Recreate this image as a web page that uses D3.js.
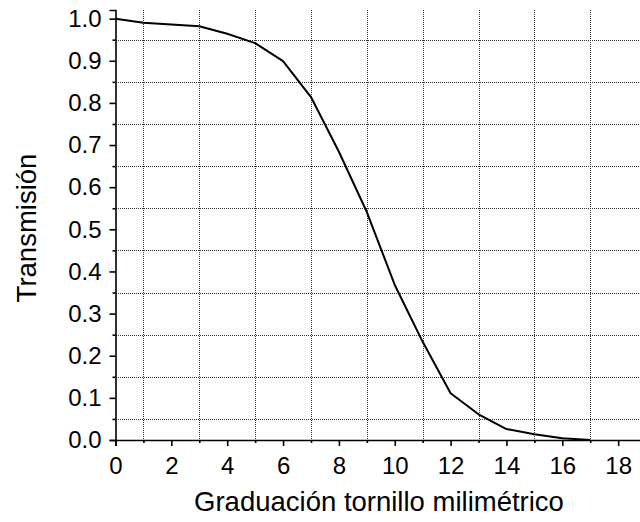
<!DOCTYPE html>
<html>
<head>
<meta charset="utf-8">
<script src="https://cdn.jsdelivr.net/npm/d3@7"></script>
<style>
  html, body { margin: 0; padding: 0; background: #fff; }
  svg { display: block; font-family: "Liberation Sans", Arial, sans-serif; }
</style>
</head>
<body>
<svg id="chart" width="640" height="522"></svg>
<script>
// Transmission curve vs. micrometer screw graduation
const graduacion = [0, 1, 3, 4, 5, 6, 7, 8, 9, 10, 11, 12, 13, 14, 15, 16, 17];
const transmision = [1.0, 0.99, 0.982, 0.964, 0.942, 0.899, 0.814, 0.684, 0.541, 0.368, 0.233, 0.111, 0.061, 0.026, 0.0135, 0.004, 0.0];

const xMajorTicks = [0, 2, 4, 6, 8, 10, 12, 14, 16, 18];
const xMinorTicks = [1, 3, 5, 7, 9, 11, 13, 15, 17];
const yMajorTicks = [0.0, 0.1, 0.2, 0.3, 0.4, 0.5, 0.6, 0.7, 0.8, 0.9, 1.0];
const yMinorTicks = [0.05, 0.15, 0.25, 0.35, 0.45, 0.55, 0.65, 0.75, 0.85, 0.95];

const xTitle = "Graduación tornillo milimétrico";
const yTitle = "Transmisión";

const svg = d3.select("#chart");
const plotLeft = 115.5, plotRight = 640.5, plotTop = 10, plotBottom = 440;

const x = d3.scaleLinear().domain([0, 18.8]).range([plotLeft, plotRight]);
const y = d3.scaleLinear().domain([0, 1.0205]).range([plotBottom, plotTop]);

// dotted grid on the minor positions
const grid = svg.append("g").attr("stroke", "#333").attr("stroke-width", 1)
  .attr("stroke-dasharray", "1,1").attr("shape-rendering", "crispEdges");
grid.selectAll("line.v").data(xMinorTicks).join("line").attr("class", "v")
  .attr("x1", d => Math.round(x(d)) + 0.5).attr("x2", d => Math.round(x(d)) + 0.5)
  .attr("y1", plotTop).attr("y2", plotBottom);
grid.selectAll("line.h").data(yMinorTicks).join("line").attr("class", "h")
  .attr("y1", d => Math.round(y(d)) + 0.5).attr("y2", d => Math.round(y(d)) + 0.5)
  .attr("x1", plotLeft).attr("x2", plotRight);

// x axis
const xAxis = svg.append("g").attr("transform", `translate(0,${plotBottom})`)
  .call(d3.axisBottom(x).tickValues(xMajorTicks).tickSize(6).tickPadding(11)
    .tickFormat(d3.format("d")));
const xMinor = svg.append("g").attr("transform", `translate(0,${plotBottom})`)
  .call(d3.axisBottom(x).tickValues(xMinorTicks).tickSize(3).tickFormat(""));

// y axis
const yAxis = svg.append("g").attr("transform", `translate(${plotLeft},0)`)
  .call(d3.axisLeft(y).tickValues(yMajorTicks).tickSize(6).tickPadding(8)
    .tickFormat(d3.format(".1f")));
const yMinor = svg.append("g").attr("transform", `translate(${plotLeft},0)`)
  .call(d3.axisLeft(y).tickValues(yMinorTicks).tickSize(3).tickFormat(""));

[xAxis, xMinor, yAxis, yMinor].forEach(g => {
  g.attr("font-size", 24).attr("font-family", "Liberation Sans, Arial, sans-serif");
  g.select(".domain").attr("stroke", "#000").attr("stroke-width", 1.6);
  g.selectAll(".tick line").attr("stroke", "#000").attr("stroke-width", 1.6);
  g.selectAll(".tick text").attr("fill", "#000");
});
xMinor.select(".domain").remove();
yMinor.select(".domain").remove();

// curve
const line = d3.line().x((d, i) => x(graduacion[i])).y(d => y(d));
svg.append("path").datum(transmision)
  .attr("d", line).attr("fill", "none").attr("stroke", "#000")
  .attr("stroke-width", 2).attr("stroke-linejoin", "round");

// axis titles
svg.append("text").attr("x", 379).attr("y", 511).attr("text-anchor", "middle")
  .attr("font-size", 27.5).attr("fill", "#000").text(xTitle);
svg.append("text").attr("transform", `translate(36,228) rotate(-90)`)
  .attr("text-anchor", "middle").attr("font-size", 27.5).attr("fill", "#000").text(yTitle);
</script>
</body>
</html>
